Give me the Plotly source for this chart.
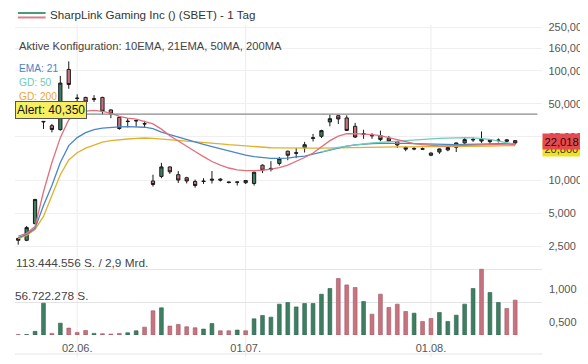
import math
import plotly.graph_objects as go

# ---------------- data ----------------
OPEN = [2.97, 2.85, 4.04, 34.6, 31.6, 29.1, 103.0, 56.5, 57.2, 55.8,
        57.2, 44.0, 37.6, 34.8, 35.3, 33.0, 9.9, 10.9, 13.3, 11.3,
        10.6, 9.8, 9.9, 10.3, 10.3, 9.7, 9.7, 10.0, 9.4, 13.8,
        12.6, 14.3, 18.5, 17.7, 19.9, 24.2, 25.3, 34.2, 39.0, 37.2,
        31.2, 26.8, 25.9, 25.7, 24.3, 22.7, 20.0, 19.6, 19.5, 17.8,
        18.2, 19.0, 20.1, 22.0, 23.7, 22.9, 23.6, 23.4, 23.5, 23.1]
HIGH = [3.00, 3.85, 6.80, 34.8, 32.8, 90.0, 122.0, 61.0, 58.0, 60.0,
        58.0, 44.5, 38.0, 37.0, 35.5, 35.0, 11.3, 14.5, 13.4, 12.2,
        10.8, 10.2, 10.5, 12.2, 10.5, 9.8, 9.75, 10.1, 12.0, 14.0,
        15.0, 16.4, 18.7, 19.8, 22.5, 26.6, 29.0, 39.8, 39.2, 39.3,
        33.5, 29.0, 27.0, 28.5, 25.5, 23.0, 20.5, 20.2, 20.0, 18.0,
        19.6, 20.2, 22.2, 24.4, 24.7, 28.0, 23.8, 24.2, 23.8, 23.3]
LOW = [2.60, 2.80, 4.00, 29.5, 27.5, 28.5, 68.6, 52.0, 50.0, 52.0,
       40.0, 37.0, 29.0, 30.5, 31.0, 30.5, 8.8, 10.5, 11.5, 9.5,
       9.4, 8.6, 9.3, 9.4, 9.8, 9.4, 9.0, 9.3, 9.0, 11.7,
       12.1, 13.7, 15.3, 16.0, 18.0, 22.7, 24.4, 31.2, 32.8, 28.3,
       24.4, 24.0, 24.0, 22.8, 22.5, 19.8, 18.5, 18.9, 19.0, 16.7,
       17.5, 18.5, 18.2, 21.6, 22.5, 22.0, 21.6, 22.2, 22.3, 21.3]
CLOSE = [2.85, 3.72, 6.72, 34.3, 29.2, 77.3, 75.0, 56.0, 52.0, 55.0,
         42.7, 40.6, 29.8, 34.5, 35.0, 32.8, 9.2, 13.3, 12.0, 10.1,
         9.9, 9.0, 9.8, 10.1, 10.1, 9.6, 9.65, 9.55, 11.9, 12.4,
         12.9, 15.8, 17.0, 17.9, 21.2, 24.5, 28.5, 36.6, 36.4, 28.6,
         24.9, 26.3, 25.6, 23.6, 22.9, 21.1, 19.3, 19.4, 19.3, 17.0,
         19.4, 20.0, 22.0, 23.6, 23.5, 23.9, 22.6, 23.2, 22.8, 22.018]

# volume in millions of shares, colour flag (1 = green, 0 = red)
VOLUME_M = [0.8, 1.0, 6.4, 55.0, 2.9, 20.6, 12.0, 4.6, 8.0, 2.9,
            2.3, 1.7, 2.9, 4.0, 7.4, 13.7, 41.8, 47.0, 15.5, 18.3,
            14.3, 12.6, 10.3, 20.0, 7.4, 7.4, 8.6, 7.4, 28.0, 33.8,
            30.9, 53.3, 56.1, 48.6, 54.5, 54.5, 70.5, 80.3, 97.5, 86.5,
            82.0, 57.9, 36.1, 70.5, 47.6, 53.3, 40.7, 37.8, 23.5, 28.7,
            39.0, 23.5, 34.4, 53.3, 80.3, 113.444556, 73.4, 56.1, 45.9, 60.2]
VOL_UP = [0, 1, 1, 1, 0, 1, 0, 0, 0, 1,
          0, 0, 0, 1, 1, 0, 0, 1, 0, 0,
          0, 0, 1, 1, 0, 0, 1, 0, 1, 1,
          1, 1, 1, 1, 1, 1, 1, 1, 0, 0,
          0, 1, 0, 0, 0, 0, 0, 1, 0, 0,
          1, 1, 1, 1, 1, 0, 1, 1, 0, 0]

EMA10 = [3.12, 3.3, 3.8, 7.9, 14.6, 24.6, 35.9, 41.1, 43.0, 43.6,
         42.6, 41.1, 38.5, 37.0, 36.2, 34.7, 32.8, 29.4, 25.6, 22.9,
         20.4, 18.4, 16.5, 14.9, 13.8, 13.0, 12.5, 12.3, 12.3, 12.4,
         12.7, 13.1, 13.8, 14.9, 16.2, 17.8, 20.4, 23.1, 25.4, 26.7,
         26.8, 26.6, 26.2, 25.6, 24.6, 23.3, 22.4, 21.7, 21.2, 20.8,
         20.7, 20.7, 20.8, 21.0, 21.2, 21.4, 21.5, 21.5, 21.5, 21.3]
EMA21 = [3.01, 3.23, 3.66, 5.93, 9.0, 14.6, 20.8, 24.6, 27.3, 29.1,
         30.0, 30.5, 30.8, 31.0, 31.0, 30.6, 29.7, 27.6, 26.2, 24.8,
         23.6, 22.4, 21.3, 20.4, 19.5, 18.5, 17.8, 17.0, 16.5, 16.1,
         15.9, 15.9, 16.0, 16.4, 16.7, 17.4, 18.2, 19.1, 19.9, 20.6,
         21.1, 21.5, 21.7, 21.8, 21.9, 21.9, 21.8, 21.7, 21.6, 21.4,
         21.2, 21.2, 21.2, 21.3, 21.5, 21.6, 21.6, 21.7, 21.7, 21.7]
SMA50 = [None] * 36 + [18.2, 19.1, 20.0, 20.6, 21.1, 21.6, 22.0, 22.3, 22.6, 23.0,
                       23.4, 23.6, 23.8, 24.0, 24.2, 24.4, 24.5, 24.6, 24.5, 24.2,
                       23.7, 22.9, 22.1, 21.3]
SMA200 = [2.95, 3.16, 3.58, 4.7, 7.3, 11.3, 15.4, 17.9, 19.7, 21.0,
          22.4, 23.1, 23.6, 23.9, 24.2, 24.4, 24.2, 23.9, 23.6, 23.2,
          22.9, 22.6, 22.2, 21.9, 21.6, 21.2, 20.9, 20.6, 20.4, 20.2,
          19.9, 19.8, 19.7, 19.7, 19.6, 19.7, 19.7, 19.8, 19.9, 20.0,
          20.0, 20.1, 20.1, 20.2, 20.2, 20.3, 20.3, 20.3, 20.3, 20.3,
          20.3, 20.4, 20.4, 20.5, 20.5, 20.6, 20.6, 20.7, 20.7, 20.8]

TICK_IDX = [7, 27, 49]
TICK_LABELS = ["02.06.", "01.07.", "01.08."]
PRICE_TICKS = [2.5, 5, 10, 25, 50, 100, 160, 250]
ALERT = 40.35
VOL_MAX = 113444556
TURNOVER = "2,9 Mrd."
VOL_RIGHT_LABELS = ["1,000", "0,500"]
TITLE = "SharpLink Gaming Inc () (SBET) - 1 Tag"
CONFIG = "Aktive Konfiguration: 10EMA, 21EMA, 50MA, 200MA"

# ---------------- styling / geometry ----------------
W, H = 580, 356     # figure size; the page's 8px body margin puts it at (8, 8)
OFF = 8
FONT = "Liberation Sans"
C_UP = "#3e7f63"
C_DN = "#c8737f"
C_EMA10 = "#e36f7b"
C_EMA21 = "#4a86c6"
C_SMA50 = "#6fcabd"
C_SMA200 = "#e2b02c"


def pxx(x):
    return (x - OFF) / W


def pxy(y):
    return 1 - (y - OFF) / H


def de(v, dec=3):
    return f"{v:.{dec}f}".replace(".", ",")


def dots(n):
    return f"{n:,}".replace(",", ".")


X = list(range(len(CLOSE)))
XR = [-0.39, 62.23]
P_RANGE = [0.3545, 2.4636]   # log10 range of the price panel (pixel rows 20..252)

fig = go.Figure()

# volume bars
fig.add_trace(go.Bar(
    x=X, y=[v * 1e6 for v in VOLUME_M], yaxis="y2",
    marker=dict(color=[C_UP if u else C_DN for u in VOL_UP],
                line=dict(color=["#2d5f4a" if u else "#9c5560" for u in VOL_UP], width=0.6)),
    width=0.45, hoverinfo="skip"))

# candles
fig.add_trace(go.Candlestick(
    x=X, open=OPEN, high=HIGH, low=LOW, close=CLOSE, yaxis="y",
    increasing=dict(line=dict(color="#1a1a1a", width=1), fillcolor=C_UP),
    decreasing=dict(line=dict(color="#1a1a1a", width=1), fillcolor=C_DN),
    whiskerwidth=0, hoverinfo="skip"))

for ser, col in [(SMA200, C_SMA200), (EMA21, C_EMA21), (SMA50, C_SMA50), (EMA10, C_EMA10)]:
    fig.add_trace(go.Scatter(x=X, y=ser, yaxis="y", mode="lines",
                             line=dict(color=col, width=1.3), hoverinfo="skip",
                             connectgaps=False))

# alert line
fig.add_trace(go.Scatter(x=[XR[0], XR[1] - 0.6], y=[ALERT, ALERT], yaxis="y", mode="lines",
                         line=dict(color="#8a8a8a", width=1.2), hoverinfo="skip"))

shapes = []
for t in TICK_IDX:
    shapes.append(dict(type="line", xref="x", yref="paper", x0=t, x1=t,
                       y0=pxy(358), y1=pxy(25), line=dict(color="#ececec", width=1), layer="below"))
shapes.append(dict(type="line", xref="paper", yref="paper", x0=pxx(15), x1=pxx(548),
                   y0=pxy(355), y1=pxy(355), line=dict(color="#e6e6e6", width=1)))
# header icon
shapes.append(dict(type="line", xref="paper", yref="paper", x0=pxx(18), x1=pxx(46),
                   y0=pxy(13), y1=pxy(13), line=dict(color="#4a9a7a", width=2)))
shapes.append(dict(type="line", xref="paper", yref="paper", x0=pxx(18), x1=pxx(46),
                   y0=pxy(17.5), y1=pxy(17.5), line=dict(color="#d9808c", width=2)))

ann = []


def text(x, y, s, color="#333", size=12, anchor="left", **kw):
    ann.append(dict(x=pxx(x), y=pxy(y), xref="paper", yref="paper", text=s, showarrow=False,
                    xanchor=anchor, yanchor="middle", font=dict(family=FONT, size=size, color=color), **kw))


text(48, 15, TITLE, "#333", 11.6)
text(17, 46.5, CONFIG, "#444", 11.2)
text(17, 68.5, "EMA: 21", C_EMA21, 10.2)
text(17, 82.5, "GD: 50", C_SMA50, 10.2)
text(17, 96.5, "GD: 200", "#f0a630", 10.2)

# alert label
ann.append(dict(x=pxx(15), y=math.log10(ALERT), xref="paper", yref="y", yshift=4,
                text="Alert: " + de(ALERT), showarrow=False, xanchor="left", yanchor="middle",
                font=dict(family=FONT, size=12, color="#111"), bgcolor="#f6ef62",
                bordercolor="#555", borderwidth=1, borderpad=1))

# GD200 value label (yellow, mostly hidden) and last price label (red)
ann.append(dict(x=pxx(548), y=math.log10(SMA200[-1]), xref="paper", yref="y", yshift=-3,
                text=de(SMA200[-1]), showarrow=False, xanchor="left", yanchor="middle",
                font=dict(family=FONT, size=11, color="#333"), bgcolor="#f2e21a", borderpad=1.5))
ann.append(dict(x=pxx(548), y=math.log10(CLOSE[-1]), xref="paper", yref="y", yshift=1,
                text=de(CLOSE[-1]), showarrow=False, xanchor="left", yanchor="middle",
                font=dict(family=FONT, size=11.2, color="#2a0a0a"), bgcolor="#e64a4f", borderpad=1.5))

# volume labels
text(14, 264, dots(VOL_MAX) + " S. / " + TURNOVER, "#444", 11.8)
text(13, 297, dots(VOL_MAX // 2) + " S.", "#444", 11.8)
ann.append(dict(x=pxx(553), y=VOL_MAX, xref="paper", yref="y2", yshift=-20, text=VOL_RIGHT_LABELS[0],
                showarrow=False, xanchor="left", yanchor="middle", font=dict(family=FONT, size=11, color="#555")))
ann.append(dict(x=pxx(553), y=VOL_MAX / 2, xref="paper", yref="y2", yshift=-20, text=VOL_RIGHT_LABELS[1],
                showarrow=False, xanchor="left", yanchor="middle", font=dict(family=FONT, size=11, color="#555")))

fig.update_layout(
    width=W, height=H, margin=dict(l=0, r=0, t=0, b=0),
    paper_bgcolor="white", plot_bgcolor="white", showlegend=False,
    font=dict(family=FONT, size=11, color="#555"),
    boxgap=0.45,
    xaxis=dict(domain=[pxx(15), pxx(548)], range=XR, tickvals=TICK_IDX, ticktext=TICK_LABELS,
               showgrid=False, zeroline=False, showline=False, ticks="", anchor="y2",
               ticklabelstandoff=5,
               rangeslider=dict(visible=False), tickfont=dict(size=11, color="#555")),
    yaxis=dict(type="log", domain=[pxy(252), pxy(20)], range=P_RANGE, side="right", anchor="x",
               tickvals=PRICE_TICKS, ticktext=[de(v) for v in PRICE_TICKS],
               showgrid=True, gridcolor="#efefef", zeroline=False, showline=False, ticks="",
               ticklabelstandoff=5,
               tickfont=dict(size=11, color="#555")),
    yaxis2=dict(domain=[pxy(336), pxy(255)], range=[0, VOL_MAX * 81 / 66], anchor="x",
                tickvals=[VOL_MAX / 2, VOL_MAX], showticklabels=False, showgrid=True,
                gridcolor="#e4e4e4", zeroline=False, showline=False, ticks=""),
    shapes=shapes, annotations=ann,
)

fig.write_html("out.html")
